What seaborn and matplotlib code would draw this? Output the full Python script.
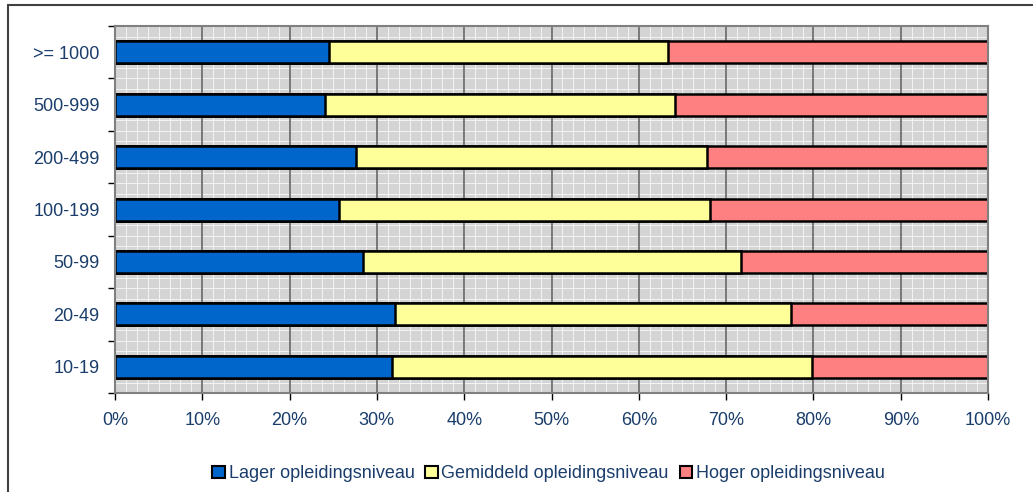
import numpy as np
import pandas as pd
import matplotlib.pyplot as plt
import seaborn as sns
from matplotlib.patches import Patch
from matplotlib.lines import Line2D
from matplotlib.ticker import MultipleLocator, FuncFormatter

categories = ['>= 1000', '500-999', '200-499', '100-199', '50-99', '20-49', '10-19']
lager = [24.5, 24.1, 27.6, 25.7, 28.4, 32.1, 31.7]
gemiddeld = [38.8, 40.0, 40.2, 42.5, 43.3, 45.3, 48.1]
hoger = [36.7, 35.9, 32.2, 31.8, 28.3, 22.6, 20.2]
series_names = ['Lager opleidingsniveau', 'Gemiddeld opleidingsniveau', 'Hoger opleidingsniveau']
colors = ['#0066CC', '#FFFF99', '#FF8080']
text_color = '#1A3D6B'

df = pd.DataFrame({'cat': categories, 'lager': lager, 'gemiddeld': gemiddeld, 'hoger': hoger})
df['c1'] = df['lager']
df['c2'] = df['lager'] + df['gemiddeld']
df['c3'] = df['c2'] + df['hoger']

sns.set_style('white')
plt.rcParams['font.family'] = ['Liberation Sans', 'DejaVu Sans']

fig = plt.figure(figsize=(10.33, 4.92), dpi=100)
ax = fig.add_axes([0.1113, 0.2012, 0.8452, 0.7458])
ax.set_facecolor('#D4D4D4')

# background pattern (white fine grid)
for xv in np.arange(0, 100.01, 1.25):
    ax.axvline(xv, color='#F2F2F2', lw=0.75, zorder=0.5)
for yv in np.arange(-0.5, 6.51, 0.2):
    ax.axhline(yv, color='#F2F2F2', lw=0.75, zorder=0.5)
for xv in range(10, 100, 10):
    ax.axvline(xv, color='#707070', lw=1.3, zorder=0.6)

# stacked bars: draw cumulative totals from back to front
for col, c in zip(['c3', 'c2', 'c1'], colors[::-1]):
    sns.barplot(data=df, x=col, y='cat', orient='h', color=c, width=0.42,
                edgecolor='black', linewidth=1.8, errorbar=None, ax=ax,
                saturation=1, zorder=3)

ax.set_xlim(0, 100)
ax.set_ylim(6.5, -0.5)
ax.set_xlabel('')
ax.set_ylabel('')
ax.xaxis.set_major_locator(MultipleLocator(10))
ax.xaxis.set_major_formatter(FuncFormatter(lambda v, p: f'{int(round(v))}%'))
ax.set_yticks(range(len(categories)))
ax.set_yticklabels(categories)
ax.set_yticks(np.arange(-0.5, 7, 1), minor=True)
ax.tick_params(axis='y', which='major', length=0, pad=11, labelsize=13, labelcolor=text_color)
ax.tick_params(axis='y', which='minor', length=5, color='black', width=1, left=True)
ax.tick_params(axis='x', which='major', length=5, color='black', width=1, pad=9,
               labelsize=13, labelcolor=text_color, bottom=True)
ax.grid(False)
for s in ax.spines.values():
    s.set_color('#808080')
    s.set_linewidth(1.5)
    s.set_zorder(4)

handles = [Patch(facecolor=c, edgecolor='black', linewidth=1.5) for c in colors]
fig.legend(handles, series_names, loc='center', bbox_to_anchor=(0.531, 0.037), ncol=3,
           frameon=False, handlelength=0.7, handleheight=0.7, handletextpad=0.2,
           columnspacing=0.6, fontsize=13, labelcolor=text_color)

# outer frame (left and top only visible)
fig.add_artist(Line2D([0.0077, 0.0077], [0.0, 0.9898], color='#404040', lw=1.5, transform=fig.transFigure))
fig.add_artist(Line2D([0.0077, 1.0], [0.9898, 0.9898], color='#404040', lw=1.5, transform=fig.transFigure))

fig.savefig('out.png', dpi=100)
